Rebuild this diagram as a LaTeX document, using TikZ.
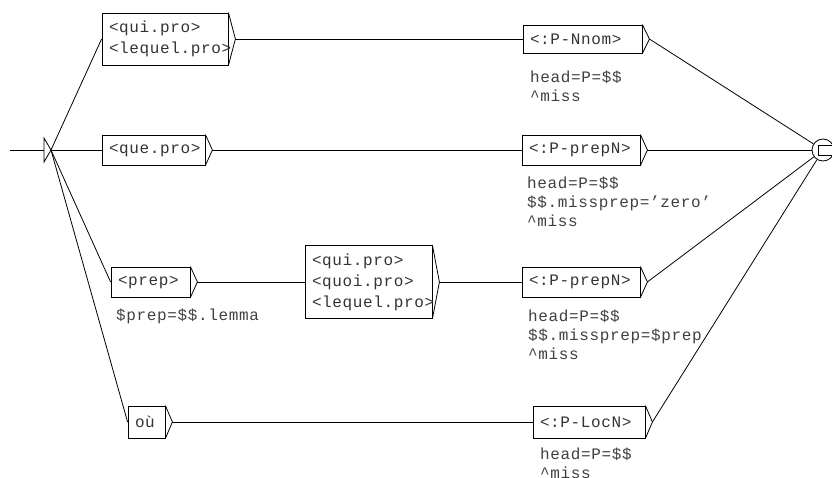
\documentclass[tikz,border=0pt]{standalone}
\usepackage{fontspec}
\usetikzlibrary{calc}
\newfontfamily\utxfont[LetterSpace=4]{Liberation Mono}
\tikzset{
  box/.style  ={draw, rectangle, inner xsep=7pt, inner ysep=0pt, align=left, line width=0.8pt, text=black!80, font=\utxfont\fontsize{16}{21}\selectfont},
  outp/.style ={anchor=north west, inner sep=0pt, align=left, text=black!75, font=\utxfont\fontsize{16}{19}\selectfont, execute at begin node=\strut},
  finst/.style={draw, circle, minimum size=22pt, inner sep=0pt, line width=0.8pt},
  wire/.style ={line width=0.8pt},
}

\begin{document}
\begin{tikzpicture}[x=1pt, y=-1pt]
  \clip (0,0) rectangle (832,477);

  % initial state
  \coordinate (entry) at (10,150);
  \coordinate (init) at (51,150);
  \draw[wire] (entry) -- ++(34,0);
  \draw[wire] ($(init)+(-7,-12)$) -- (init) -- ($(init)+(-7,12)$) -- cycle;

  % pronoun boxes
  \node[box, text width=112pt, minimum height=52pt] (quiA) at (165,39)    {<qui.pro>\\<lequel.pro>};
  \node[box, text width=89pt,  minimum height=30pt] (que)  at (153.5,150) {<que.pro>};
  \node[box, text width=65pt,  minimum height=30pt] (prep) at (150.5,282) {<prep>};
  \node[box, text width=113pt, minimum height=73pt] (quiB) at (368.5,282) {<qui.pro>\\<quoi.pro>\\<lequel.pro>};
  \node[box, text width=23pt,  minimum height=32pt] (ou)   at (146.5,422) {où};
  \node[outp] (prep-out) at (116,307) {\$prep=\$\$.lemma};

  % subgraph calls
  \node[box, text width=105pt, minimum height=28pt] (nnom)  at (582.5,39) {<:P-Nnom>};
  \node[box, text width=104pt, minimum height=30pt] (prepA) at (581,150)  {<:P-prepN>};
  \node[box, text width=104pt, minimum height=30pt] (prepB) at (581,282)  {<:P-prepN>};
  \node[box, text width=98pt,  minimum height=32pt] (locn)  at (589,422)  {<:P-LocN>};
  \node[outp] (nnom-out)  at (530,70.5)  {head=P=\$\$\\\textasciicircum miss};
  \node[outp] (prepA-out) at (527,176.5) {head=P=\$\$\\\$\$.missprep=’zero’\\\textasciicircum miss};
  \node[outp] (prepB-out) at (528,309.5) {head=P=\$\$\\\$\$.missprep=\$prep\\\textasciicircum miss};
  \node[outp] (locn-out)  at (540,448)   {head=P=\$\$\\\textasciicircum miss};

  % final state
  \node[finst] (fin) at (823,150) {};
  \draw[wire] ($(fin.center)+(-5,-5)$) rectangle ($(fin.center)+(15,5)$);

  % box tips
  \foreach \n in {quiA,que,prep,quiB,ou,nnom,prepA,prepB,locn}
    \draw[wire] (\n.north east) -- ($(\n.east)+(7,0)$) coordinate (\n-t) -- (\n.south east);

  % transitions
  \foreach \b in {quiA,que,prep,ou}
    \draw[wire] (init) -- (\b.west);
  \draw[wire] (quiA-t) -- (nnom.west);
  \draw[wire] (que-t) -- (prepA.west);
  \draw[wire] (prep-t) -- (quiB.west);
  \draw[wire] (quiB-t) -- (prepB.west);
  \draw[wire] (ou-t) -- (locn.west);
  \foreach \n in {nnom,prepA,prepB,locn}
    \draw[wire] (\n-t) -- (fin);
\end{tikzpicture}
\end{document}
